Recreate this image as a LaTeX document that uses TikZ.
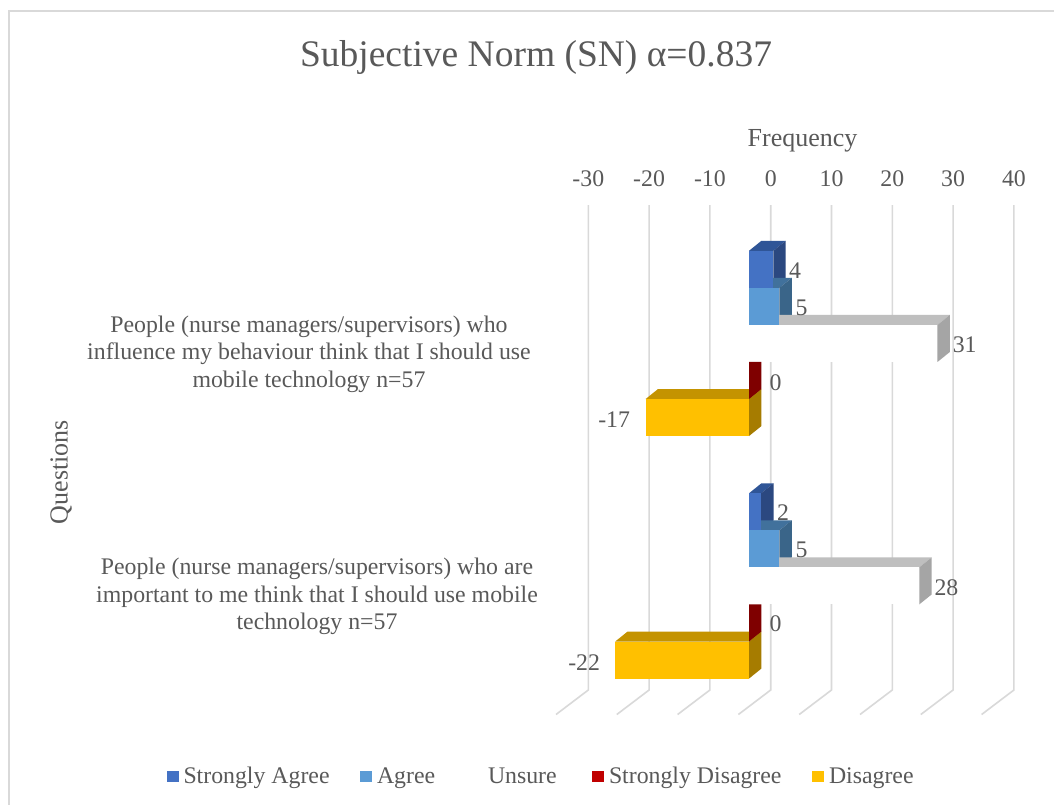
\documentclass[tikz,border=0pt]{standalone}
\usepackage{fontspec}
\setmainfont{Liberation Serif}
\definecolor{txt}{HTML}{595959}
\definecolor{gridc}{HTML}{D9D9D9}
\definecolor{saF}{HTML}{4472C4}
\definecolor{saT}{HTML}{2F5597}
\definecolor{saS}{HTML}{2B4880}
\definecolor{agF}{HTML}{5B9BD5}
\definecolor{agT}{HTML}{41719C}
\definecolor{agS}{HTML}{3A6589}
\definecolor{unT}{HTML}{BFBFBF}
\definecolor{unS}{HTML}{A5A5A5}
\definecolor{sdF}{HTML}{7F0000}
\definecolor{sdL}{HTML}{C00000}
\definecolor{diF}{HTML}{FFC000}
\definecolor{diT}{HTML}{C49300}
\definecolor{diS}{HTML}{A67C00}
\def\barX{749}
\def\barSc{6.08}
\def\barDX{12.4}
\def\barDY{-10}
\def\barH{37.05}
\newcommand\cbarback[4]{%
  \pgfmathsetmacro\xa{min(\barX,\barX+\barSc*#2)}%
  \pgfmathsetmacro\xb{max(\barX,\barX+\barSc*#2)}%
  \fill[#3] (\xa,#1) -- (\xb,#1) -- (\xb+\barDX,#1+\barDY) -- (\xa+\barDX,#1+\barDY) -- cycle;
  \fill[#4] (\xb,#1) -- (\xb+\barDX,#1+\barDY) -- (\xb+\barDX,#1+\barDY+\barH) -- (\xb,#1+\barH) -- cycle;
}
\newcommand\cbarfront[3]{%
  \pgfmathsetmacro\xa{min(\barX,\barX+\barSc*#2)}%
  \pgfmathsetmacro\xb{max(\barX,\barX+\barSc*#2)}%
  \fill[#3] (\xa,#1) rectangle (\xb,#1+\barH);
}
\newcommand\czerobar[1]{%
  \fill[sdF] (\barX,#1) -- (\barX+\barDX,#1) -- (\barX+\barDX,#1+\barH+\barDY) -- (\barX,#1+\barH) -- cycle;
}
\begin{document}
\begin{tikzpicture}[x=1pt,y=-1pt,
  every node/.style={inner sep=0pt,outer sep=0pt,text=txt},
  lbl/.style={font=\fontsize{23.8}{28}\selectfont},
  axt/.style={font=\fontsize{26}{30}\selectfont},
  gridline/.style={draw=gridc,line width=1.6pt}]
\useasboundingbox (0,0) rectangle (1054,805);
\fill[white] (0,0) rectangle (1054,805);
\draw[draw=gridc,line width=2pt] (9,805) -- (9,11) -- (1054,11);

% title and axis titles
\node[font=\fontsize{37.5}{44}\selectfont,anchor=base] (title) at (536,66.5) {Subjective Norm (SN) α=0.837};
\node[axt,anchor=base] (freq) at (802.5,146.7) {Frequency};
\node[axt,anchor=base,rotate=90] (quest) at (67.5,472.3) {Questions};

% tick labels
\foreach \k/\t in {-3/-30,-2/-20,-1/-10,0/0,1/10,2/20,3/30,4/40}{
  \node[lbl,anchor=base] (tick\t) at ({770.7+60.8*\k},186.5) {\t};
}

% gridlines (back wall and floor)
\foreach \k in {-3,...,4}{
  \draw[gridline] ({770.7+60.8*\k},205) -- ({770.7+60.8*\k},690) -- ({770.7+60.8*\k-32.3},714.5);
}

% category 1 bars
\cbarback{250.8}{4}{saT}{saS}
\cbarback{287.85}{5}{agT}{agS}
\cbarback{324.9}{31}{unT}{unS}
\cbarback{399.0}{-17}{diT}{diS}
\cbarfront{250.8}{4}{saF}
\cbarfront{287.85}{5}{agF}
\cbarfront{324.9}{31}{white}
\cbarfront{399.0}{-17}{diF}
\czerobar{361.95}

% category 2 bars
\cbarback{493.3}{2}{saT}{saS}
\cbarback{530.35}{5}{agT}{agS}
\cbarback{567.4}{28}{unT}{unS}
\cbarback{641.5}{-22}{diT}{diS}
\cbarfront{493.3}{2}{saF}
\cbarfront{530.35}{5}{agF}
\cbarfront{567.4}{28}{white}
\cbarfront{641.5}{-22}{diF}
\czerobar{604.45}

% data labels
\node[lbl,anchor=base west] (d1a) at (789,278.5) {4};
\node[lbl,anchor=base west] (d1b) at (795.5,315) {5};
\node[lbl,anchor=base west] (d1c) at (952.8,352.7) {31};
\node[lbl,anchor=base west] (d1d) at (769.5,390.7) {0};
\node[lbl,anchor=base east] (d1e) at (630,427.8) {-17};
\node[lbl,anchor=base west] (d2a) at (777,520.7) {2};
\node[lbl,anchor=base west] (d2b) at (795.5,557.3) {5};
\node[lbl,anchor=base west] (d2c) at (934.5,595) {28};
\node[lbl,anchor=base west] (d2d) at (769.5,631.7) {0};
\node[lbl,anchor=base east] (d2e) at (600,670) {-22};

% category labels
\node[lbl,anchor=base] (q1a) at (309,332.3) {People (nurse managers/supervisors) who};
\node[lbl,anchor=base] (q1b) at (309,359.8) {influence my behaviour think that I should use};
\node[lbl,anchor=base] (q1c) at (309,387.3) {mobile technology n=57};
\node[lbl,anchor=base] (q2a) at (317,574.8) {People (nurse managers/supervisors) who are};
\node[lbl,anchor=base] (q2b) at (317,602.3) {important to me think that I should use mobile};
\node[lbl,anchor=base] (q2c) at (317,629.8) {technology n=57};

% legend
\fill[saF] (167.3,771) rectangle (179.3,782.3);
\node[lbl,anchor=base west] (lg1) at (183.5,783.3) {Strongly Agree};
\fill[agF] (360,771) rectangle (372,782.3);
\node[lbl,anchor=base west] (lg2) at (377,783.3) {Agree};
\node[lbl,anchor=base west] (lg3) at (488,783.3) {Unsure};
\fill[sdL] (592,771) rectangle (604,782.3);
\node[lbl,anchor=base west] (lg4) at (609,783.3) {Strongly Disagree};
\fill[diF] (812,771) rectangle (824,782.3);
\node[lbl,anchor=base west] (lg5) at (829,783.3) {Disagree};
\end{tikzpicture}
\end{document}
